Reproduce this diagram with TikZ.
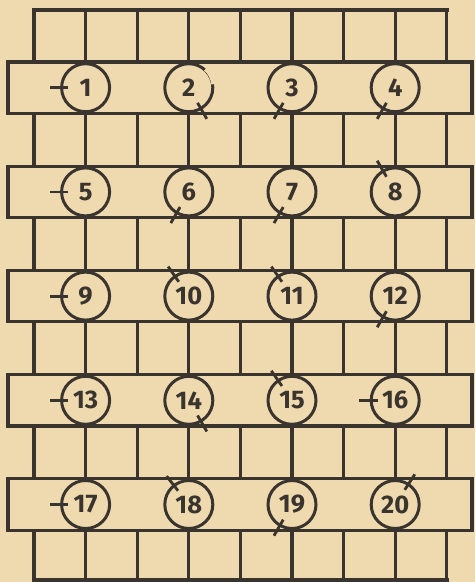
\documentclass[tikz,border=0pt]{standalone}
\usepackage{fontspec}
\setsansfont{Fira Sans}
\definecolor{papier}{HTML}{EFD9AF}
\definecolor{tinte}{HTML}{3A342E}
\tikzset{
	linie/.style={draw=tinte, line width=1.8pt, line cap=rect},
	kreis/.style={circle, draw=tinte, fill=papier, line width=1.7pt, minimum size=9.6mm, inner sep=0pt,
		text=tinte, font=\sffamily\bfseries\fontsize{14.5}{14.5}\selectfont},
	strich/.style={draw=tinte, line width=1.6pt},
}
\begin{document}
\begin{tikzpicture}[x=0.2mm, y=-0.2mm]
	\def\B{51.6}
	\def\P{104.2}
	% Hintergrund
	\fill[papier] (0,0) rectangle (475,582);
	% Kaestchen
	\foreach \i in {0,...,8}
		\draw[linie] (34+\i*\B,10) -- (34+\i*\B,580);
	\draw[linie] (34,10) -- (447,10);
	\draw[linie] (34,580) -- (447,580);
	% Streifen
	\foreach \k in {0,...,4}
		\draw[linie, fill=papier] (8,62+\k*\P) rectangle (472,113.4+\k*\P);

	% Kreise mit Zeiger
	\foreach \n/\w [count=\j from 0] in {1/180, 2/-60, 3/-120, 4/-120, 5/180, 6/-120, 7/-120, 8/120,
			9/180, 10/125, 11/125, 12/-120, 13/180, 14/-60, 15/125, 16/180, 17/180, 18/128, 19/-120, 20/57} {
		\pgfmathtruncatemacro\sp{mod(\j,4)}
		\pgfmathtruncatemacro\ze{\j/4}
		\node[kreis] (k\n) at (34+\B+2*\sp*\B, 87.7+\ze*\P) {\n};
		\draw[strich] ([shift={(\w:3.5mm)}]k\n.center) -- ([shift={(\w:7.2mm)}]k\n.center);
	}
	% Luecke im Kreis 2
	\draw[papier, line width=2.7pt] (k2.48) arc[start angle=48, end angle=6, radius=4.8mm];
\end{tikzpicture}
\end{document}
